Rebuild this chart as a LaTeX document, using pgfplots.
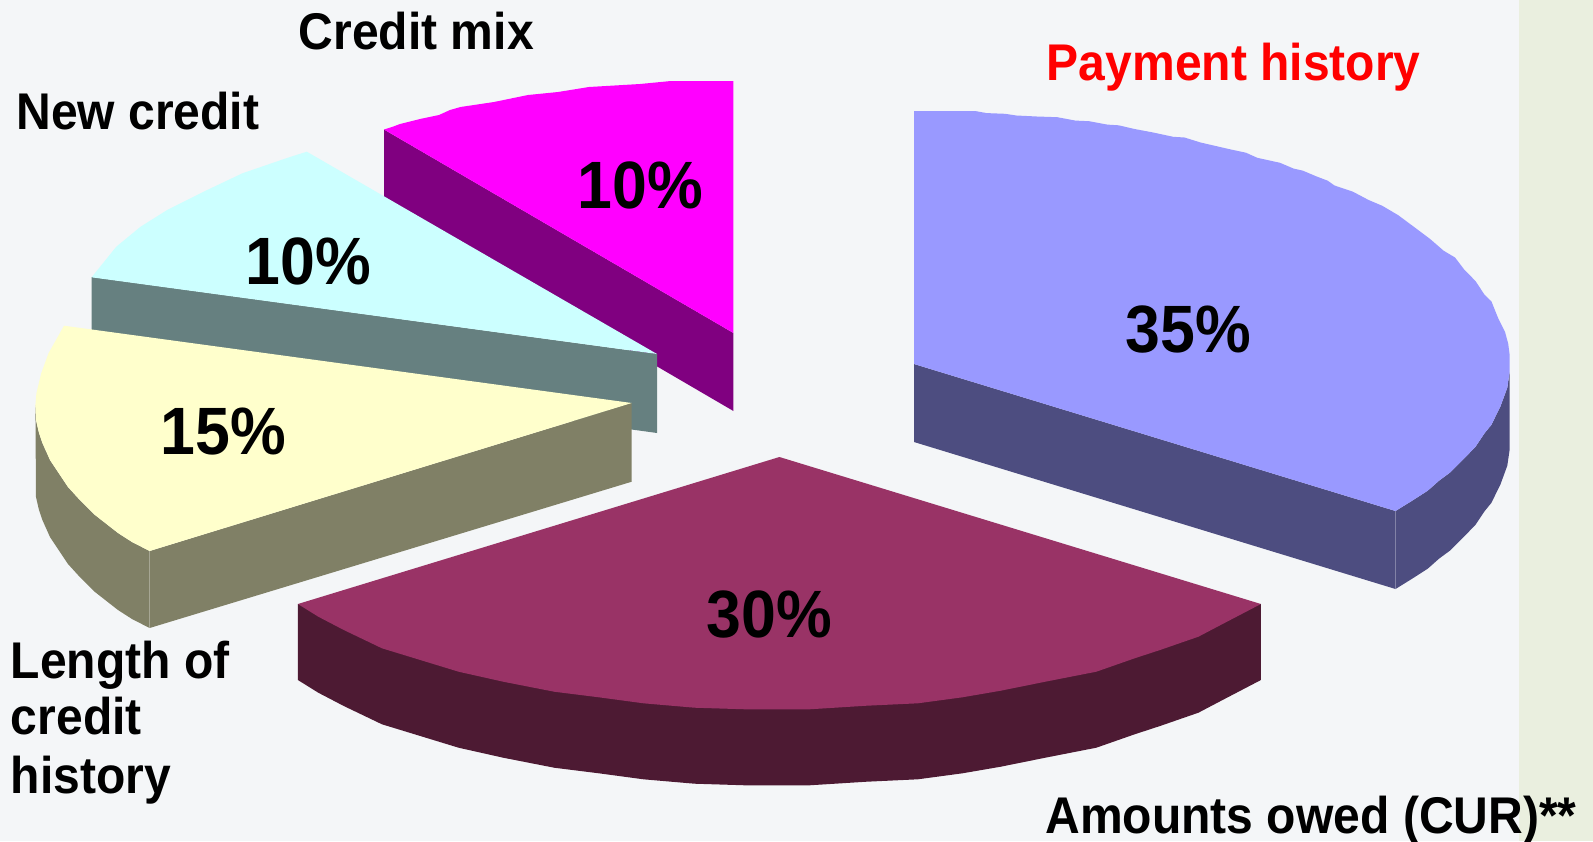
\documentclass[border=0pt]{standalone}
\usepackage{pgfplots}
\pgfplotsset{compat=1.18}
\usepackage{fontspec}
\setmainfont{Liberation Sans}
\definecolor{bg}{HTML}{F4F6F8}
\definecolor{strip}{HTML}{EAEFDF}
\definecolor{pur}{HTML}{9999FF}
\definecolor{purd}{HTML}{4D4D80}
\definecolor{mar}{HTML}{993366}
\definecolor{mard}{HTML}{4D1A33}
\definecolor{yel}{HTML}{FFFFCC}
\definecolor{yeld}{HTML}{808066}
\definecolor{cya}{HTML}{CCFFFF}
\definecolor{cyad}{HTML}{668080}
\definecolor{mag}{HTML}{FF00FF}
\definecolor{magd}{HTML}{800080}
\newcommand{\lab}[1]{\scalebox{1.005}[1.08]{\fontsize{23.9}{28}\selectfont\bfseries #1}}
\newcommand{\pct}[1]{\scalebox{1.01}[1.08]{\fontsize{31}{36}\selectfont\bfseries #1}}
\begin{document}
\begin{tikzpicture}
\begin{axis}[
  scale only axis, width=796.5pt, height=420.5pt,
  xmin=0, xmax=1593, ymin=0, ymax=841, y dir=reverse,
  hide axis, clip=true,
  every axis plot/.append style={draw=none, mark=none, forget plot},
]
% background
\addplot[fill=bg] coordinates {(0,0)(1593,0)(1593,841)(0,841)} --cycle;
\addplot[fill=strip] coordinates {(1519,0)(1593,0)(1593,841)(1519,841)} --cycle;
% credit mix
\addplot[fill=magd] coordinates {(384,129.5)(733.4,333)(733.4,411)(384,207)} --cycle;
\addplot[fill=mag] coordinates {(733.4,81)(671,81)(640,84)(589,87)(558,92)(528,95)(494,102)(460.5,107)(450,110)(439,115)(420,119)(400,124)(392,127)(384,129.5)(733.4,333)} --cycle;
% new credit
\addplot[fill=cyad] coordinates {(91.6,277)(657,354)(657,433)(91.6,355)} --cycle;
\addplot[fill=cya] coordinates {(306.8,151.7)(290,157)(271.5,163.3)(242.4,173.3)(203.6,191.7)(167.2,210)(140.6,226.7)(116.3,246.7)(91.6,277.3)(657,354)} --cycle;
% length of credit history
\addplot[fill=yeld] coordinates {(35.4,405)(36,420)(39,433)(42.4,443)(50,460)(60,475)(68,487)(78,498)(95,515)(118,533)(132,542)(149.6,551)(631.7,403)(631.7,481.7)(149.6,628)(132,619)(118,610)(95,592)(78,575)(68,564)(60,552)(50,537)(42.4,520)(39,510)(36,497)} --cycle;
\addplot[fill=yel] coordinates {(64,325.7)(48.5,353.3)(41.2,373.3)(36.4,393.3)(35.4,405)(36,420)(39,433)(42.4,443)(50,460)(60,475)(68,487)(78,498)(95,515)(118,533)(132,542)(149.6,551)(631.7,403)} --cycle;
\addplot[draw=yeld!70!white, line width=0.4pt] coordinates {(149.6,551)(149.6,628)};
% amounts owed
\addplot[fill=mard] coordinates {(297.9,604)(1260.9,604)(1260.9,680)(1223.9,699.3)(1198.4,712.7)(1160,726)(1134.6,734.3)(1096.3,747.7)(1045.3,757.7)(1000.7,766.7)(962.4,773.3)(917.8,779.3)(866.7,781.7)(809.3,785.3)(745.6,785.3)(694.5,783.7)(643.5,779.3)(598.9,773.3)(554.2,767.7)(503.2,757.7)(458.6,747.7)(420.3,736)(382,724.3)(343.8,706)(318.3,692.7)(297.9,680)} --cycle;
\addplot[fill=mar] coordinates {(779.4,457)(297.9,604)(318.3,616.7)(343.8,630)(382,648.3)(420.3,660)(458.6,671.7)(503.2,681.7)(554.2,691.7)(598.9,697.3)(643.5,703.3)(694.5,707.7)(745.6,709.3)(809.3,709.3)(866.7,705.7)(917.8,703.3)(962.4,697.3)(1000.7,690.7)(1045.3,681.7)(1096.3,671.7)(1134.6,658.3)(1160,650)(1198.4,636.7)(1223.9,623.3)(1260.9,604)} --cycle;
% payment history
\addplot[fill=purd] coordinates {(914,364)(1395.5,511)(1411.8,500.9)(1427.7,490.7)(1439.1,480.6)(1450.5,472.2)(1464,458.6)(1475.5,446.8)(1484.5,433.3)(1491.4,424.8)(1500.5,406.2)(1507.3,387.6)(1509.5,372.4)(1509.5,450.4)(1507.3,465.6)(1500.5,484.2)(1491.4,502.8)(1484.5,511.3)(1475.5,524.8)(1464,536.6)(1450.5,550.2)(1439.1,558.6)(1427.7,568.7)(1411.8,578.9)(1395.5,589)(914,442)} --cycle;
\addplot[fill=pur] coordinates {(914,111)(975.5,111.1)(986.8,113.1)(1005,113.8)(1016.4,115.5)(1036.8,116.5)(1057.3,117.2)(1075.5,120.6)(1089.1,121.2)(1107.3,124.6)(1118.6,125.3)(1134.5,129)(1152.7,132.4)(1173.2,136.8)(1184.5,137.5)(1200.5,142.5)(1230,149.3)(1245.9,152.7)(1257.3,157.8)(1280,162.8)(1293.6,168.6)(1302.7,170.6)(1316.4,176.4)(1327.7,180.7)(1334.5,185.5)(1352.7,191.6)(1368.6,200)(1382.3,205.8)(1398.2,215.2)(1414.1,227)(1430,238.9)(1443.6,250.7)(1455,257.5)(1464,269.3)(1475.5,281.1)(1484.5,294.7)(1491.4,301.4)(1498.2,318.3)(1505,331.9)(1508.2,343.7)(1509.5,353.8)(1509.5,372.4)(1507.3,387.6)(1500.5,406.2)(1491.4,424.8)(1484.5,433.3)(1475.5,446.8)(1464,458.6)(1450.5,472.2)(1439.1,480.6)(1427.7,490.7)(1411.8,500.9)(1395.5,511)(914,364)} --cycle;
\addplot[draw=purd!70!white, line width=0.4pt] coordinates {(1395.5,511)(1395.5,589)};
% labels
\node[anchor=base west, inner sep=0pt, overlay] at (axis cs:298.5,49.2) {\lab{Credit mix}};
\node[anchor=base west, inner sep=0pt, overlay] at (axis cs:16,129.5) {\lab{New credit}};
\node[anchor=base west, inner sep=0pt, overlay, text=red] at (axis cs:1046.5,80.5) {\lab{Payment history}};
\node[anchor=base west, inner sep=0pt, overlay] at (axis cs:10.5,678.2) {\lab{Length of}};
\node[anchor=base west, inner sep=0pt, overlay] at (axis cs:10.5,734.5) {\lab{credit}};
\node[anchor=base west, inner sep=0pt, overlay] at (axis cs:10.5,793.2) {\lab{history}};
\node[anchor=base west, inner sep=0pt, overlay] at (axis cs:1045,833) {\lab{Amounts owed (CUR)**}};
\node[anchor=base west, inner sep=0pt, overlay] at (axis cs:1125,352) {\pct{35\%}};
\node[anchor=base west, inner sep=0pt, overlay] at (axis cs:577,208.2) {\pct{10\%}};
\node[anchor=base west, inner sep=0pt, overlay] at (axis cs:245,284.2) {\pct{10\%}};
\node[anchor=base west, inner sep=0pt, overlay] at (axis cs:160,454.2) {\pct{15\%}};
\node[anchor=base west, inner sep=0pt, overlay] at (axis cs:706,637.5) {\pct{30\%}};
\end{axis}
\end{tikzpicture}
\end{document}
